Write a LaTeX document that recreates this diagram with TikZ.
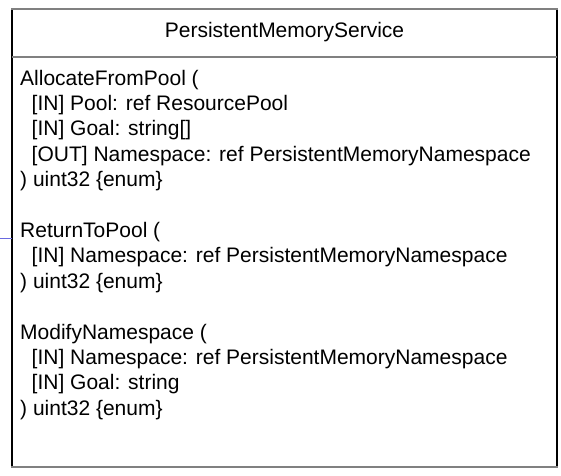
\documentclass[tikz,border=0pt]{standalone}
\usepackage{fontspec}
\setmainfont{Liberation Sans}
\definecolor{bordergray}{HTML}{808080}
\definecolor{linkblue}{HTML}{6A6AE0}
\begin{document}
\begin{tikzpicture}[x=1pt,y=1pt,
  txt/.style={anchor=base west, inner sep=0pt, font=\fontsize{21}{25}\selectfont},
  ttl/.style={anchor=base, inner sep=0pt, font=\fontsize{21}{25}\selectfont},
  hborder/.style={draw=bordergray, line width=2pt},
  vborder/.style={draw=black, line width=1.5pt},
  link/.style={draw=linkblue, line width=1pt}]
\useasboundingbox (0,0) rectangle (561,475);
\node[draw=none, minimum width=545pt, minimum height=458pt, inner sep=0pt, outer sep=0pt] (box) at (284.5,237) {};
\coordinate (d1) at (12,418);
\coordinate (d2) at (557,418);
\coordinate (stub) at (0,237);
\draw[vborder] (box.north west) -- (box.south west);
\draw[vborder] (box.north east) -- (box.south east);
\draw[hborder] ([xshift=-0.75pt]box.north west) -- ([xshift=0.75pt]box.north east);
\draw[hborder] ([xshift=-0.75pt]box.south west) -- ([xshift=0.75pt]box.south east);
\draw[hborder] (d1) -- (d2);
\draw[link] (stub) -- (box.west);
\node[ttl] (title) at (284.5,437.7) {PersistentMemoryService};
\node[txt] (a0) at (20,390) {AllocateFromPool (};
\node[txt] (a1) at (31.5,364.6) {[IN] Pool: ref ResourcePool};
\node[txt] (a2) at (31.5,339.2) {[IN] Goal: string[]};
\node[txt] (a3) at (31.5,313.8) {[OUT] Namespace: ref PersistentMemoryNamespace};
\node[txt] (a4) at (20,288.4) {) uint32 \{enum\}};
\node[txt] (r0) at (20,237.6) {ReturnToPool (};
\node[txt] (r1) at (31.5,212.2) {[IN] Namespace: ref PersistentMemoryNamespace};
\node[txt] (r2) at (20,186.8) {) uint32 \{enum\}};
\node[txt] (m0) at (20,136) {ModifyNamespace (};
\node[txt] (m1) at (31.5,110.6) {[IN] Namespace: ref PersistentMemoryNamespace};
\node[txt] (m2) at (31.5,85.2) {[IN] Goal: string};
\node[txt] (m3) at (20,59.8) {) uint32 \{enum\}};
\end{tikzpicture}
\end{document}
